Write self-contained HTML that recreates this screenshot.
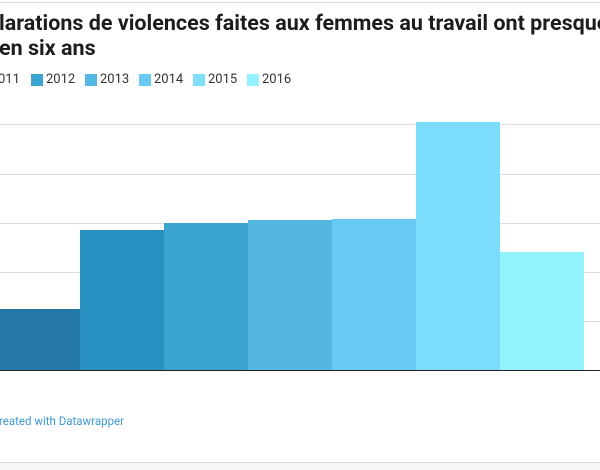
<!DOCTYPE html>
<html><head><meta charset="utf-8"><style>
body{margin:0;width:600px;height:469px;background:#fff;overflow:hidden;position:relative;font-family:"Roboto","Liberation Sans",sans-serif}
.t{position:absolute;left:-1px;font-size:21.5px;font-weight:bold;color:#1d1d1d;white-space:nowrap;letter-spacing:0px}
.lg{position:absolute;top:72px;font-size:13px;color:#333}
.sw{position:absolute;top:74px;width:12px;height:12px}
.g{position:absolute;left:0;width:600px;height:1px;background:#ddd}
.b{position:absolute}
</style></head><body>
<div style="position:absolute;left:0;top:2px;width:600px;height:1px;background:#ddd"></div>
<div class="t" style="top:11px">larations de violences faites aux femmes au travail ont presque</div>
<div class="t" style="top:36px">en six ans</div>
<div class="lg" style="left:-2px">011</div>
<div class="sw" style="left:31px;background:#3aa4d2"></div><div class="lg" style="left:46px">2012</div>
<div class="sw" style="left:85px;background:#53b8e2"></div><div class="lg" style="left:100px">2013</div>
<div class="sw" style="left:139px;background:#68c9f5"></div><div class="lg" style="left:154px">2014</div>
<div class="sw" style="left:193px;background:#7fdefc"></div><div class="lg" style="left:208px">2015</div>
<div class="sw" style="left:247px;background:#92f2fd"></div><div class="lg" style="left:262px">2016</div>
<div class="g" style="top:124px"></div><div class="g" style="top:174px"></div><div class="g" style="top:223px"></div><div class="g" style="top:272px"></div><div class="g" style="top:321px"></div>
<div class="b" style="left:0;width:80px;top:309px;height:61px;background:#2479a6"></div>
<div class="b" style="left:80px;width:84px;top:230px;height:140px;background:#2891c1"></div>
<div class="b" style="left:164px;width:84px;top:223px;height:147px;background:#3ba4d2"></div>
<div class="b" style="left:248px;width:84px;top:220px;height:150px;background:#53b7e0"></div>
<div class="b" style="left:332px;width:84px;top:219px;height:151px;background:#68c9f5"></div>
<div class="b" style="left:416px;width:84px;top:122px;height:248px;background:#7cdcfc"></div>
<div class="b" style="left:500px;width:84px;top:252px;height:118px;background:#92f2fd"></div>
<div style="position:absolute;left:0;top:370px;width:600px;height:1px;background:#222"></div>
<div style="position:absolute;left:-1px;top:414px;font-size:11.5px;color:#3d9ad1">reated with Datawrapper</div>
<div style="position:absolute;left:0;top:462px;width:600px;height:7px;background:#f6f6f6;border-top:1px solid #ddd"></div>
</body></html>
